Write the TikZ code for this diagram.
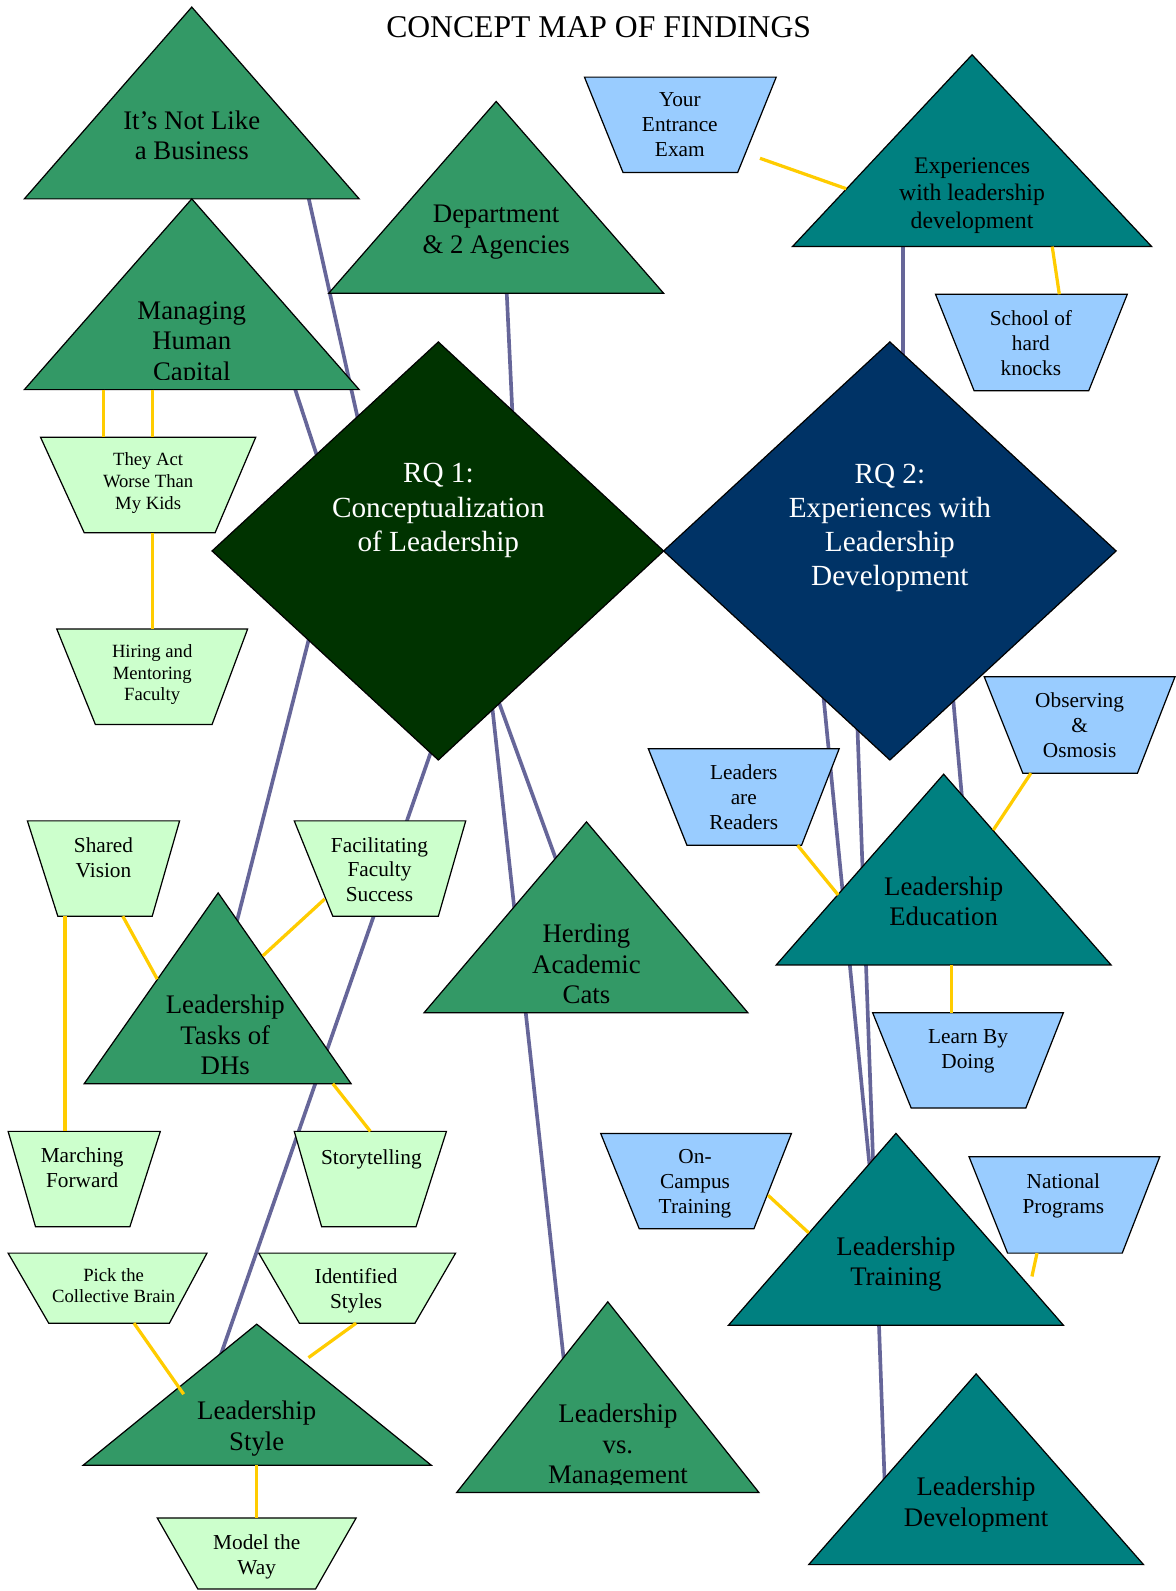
\documentclass[tikz,border=0pt]{standalone}
\usepackage{fontspec}
\setmainfont{Liberation Serif}
\usepackage{tikz}

\definecolor{trigreen}{RGB}{51,153,102}
\definecolor{triteal}{RGB}{0,128,128}
\definecolor{rqgreen}{RGB}{0,51,0}
\definecolor{rqnavy}{RGB}{0,51,102}
\definecolor{boxgreen}{RGB}{204,255,204}
\definecolor{boxblue}{RGB}{153,204,255}
\definecolor{linkpurple}{RGB}{102,102,153}
\definecolor{linkgold}{RGB}{255,204,0}

\tikzset{
  tri/.style={draw=black, line width=0.6pt, fill=trigreen},
  tritl/.style={tri, fill=triteal},
  rqshape/.style={draw=black, line width=0.6pt},
  lgbox/.style={draw=black, line width=0.6pt, fill=boxgreen},
  lbbox/.style={draw=black, line width=0.6pt, fill=boxblue},
  link/.style={draw=linkpurple, line width=1.8pt},
  tie/.style={draw=linkgold, line width=1.6pt},
  trilbl/.style={align=center, inner sep=0pt, text depth=0pt, font=\fontsize{13.2}{15}\selectfont},
  rqlbl/.style={align=center, inner sep=0pt, text depth=0pt, text=white, font=\fontsize{14.4}{16.8}\selectfont},
  boxlbl/.style={align=center, inner sep=0pt, text depth=0pt, font=\fontsize{10.5}{12.3}\selectfont},
  smlbl/.style={align=center, inner sep=0pt, text depth=0pt, font=\fontsize{9.2}{10.7}\selectfont},
}

\begin{document}
\begin{tikzpicture}[x=0.5pt,y=0.5pt,yscale=-1,xscale=1]
        \path [fill=white, use as bounding box] (0,0) rectangle (1159,1568);

        % Connector ends
        \coordinate (biz-rq1) at (303,190);   \coordinate (rq1-biz) at (361,450);
        \coordinate (hcap-rq1) at (289,378);  \coordinate (rq1-hcap) at (329,500);
        \coordinate (dept-rq1) at (499,280);  \coordinate (rq1-dept) at (507,450);
        \coordinate (rq1-tasks) at (312,600); \coordinate (tasks-rq1) at (210,1000);
        \coordinate (rq1-style) at (439,700); \coordinate (style-rq1) at (195,1400);
        \coordinate (rq1-herd) at (480,660);  \coordinate (herd-rq1) at (560,880);
        \coordinate (rq1-lvsm) at (480,650);  \coordinate (lvsm-rq1) at (560,1380);
        \coordinate (exper-rq2) at (890,230); \coordinate (rq2-exper) at (890,450);
        \coordinate (rq2-train) at (807,640); \coordinate (train-rq2) at (862,1200);
        \coordinate (rq2-ldev) at (843,660);  \coordinate (ldev-rq2) at (874,1520);
        \coordinate (rq2-ledu) at (935,640);  \coordinate (ledu-rq2) at (952,830);

        %Straight Lines
        \draw [link] (biz-rq1) -- (rq1-biz) ;
        \draw [link] (hcap-rq1) -- (rq1-hcap) ;
        \draw [link] (dept-rq1) -- (rq1-dept) ;
        \draw [link] (rq1-tasks) -- (tasks-rq1) ;
        \draw [link] (rq1-style) -- (style-rq1) ;
        \draw [link] (rq1-herd) -- (herd-rq1) ;
        \draw [link] (rq1-lvsm) -- (lvsm-rq1) ;
        \draw [link] (exper-rq2) -- (rq2-exper) ;
        \draw [link] (rq2-train) -- (train-rq2) ;
        \draw [link] (rq2-ldev) -- (ldev-rq2) ;
        \draw [link] (rq2-ledu) -- (ledu-rq2) ;

        %Shape: Triangle
        \draw [tri] (189,7) -- (354,196) -- (24,196) -- cycle ;
        \draw [tri] (489,100) -- (654,289) -- (324,289) -- cycle ;
        \draw [tri] (189,196) -- (354,384) -- (24,384) -- cycle ;
        \draw [tritl] (958,54) -- (1135,243) -- (781,243) -- cycle ;
        \draw [tri] (215,880) -- (346,1068) -- (83,1068) -- cycle ;
        \draw [tri] (578,810) -- (737,998) -- (418,998) -- cycle ;
        \draw [tritl] (930,763) -- (1095,951) -- (765,951) -- cycle ;
        \draw [tri] (253,1305) -- (425,1444) -- (82,1444) -- cycle ;
        \draw [tri] (599,1283) -- (748,1471) -- (450,1471) -- cycle ;
        \draw [tritl] (883,1117) -- (1048,1306) -- (718,1306) -- cycle ;
        \draw [tritl] (962,1354) -- (1127,1542) -- (797,1542) -- cycle ;

        %Shape: Diamond
        \draw [rqshape, fill=rqgreen] (432,337) -- (654,543) -- (432,749) -- (209,543) -- cycle ;
        \draw [rqshape, fill=rqnavy] (877,337) -- (1100,543) -- (877,749) -- (654,543) -- cycle ;

        %Shape: Trapezoid
        \draw [lgbox] (40,431) -- (252,431) -- (212,525) -- (83,525) -- cycle ;
        \draw [lgbox] (56,620) -- (244,620) -- (209,714) -- (94,714) -- cycle ;
        \draw [lgbox] (27,809) -- (177,809) -- (150,903) -- (57,903) -- cycle ;
        \draw [lgbox] (290,809) -- (459,809) -- (432,903) -- (328,903) -- cycle ;
        \draw [lgbox] (8,1115) -- (158,1115) -- (128,1209) -- (35,1209) -- cycle ;
        \draw [lgbox] (290,1115) -- (440,1115) -- (410,1209) -- (317,1209) -- cycle ;
        \draw [lgbox] (8,1235) -- (204,1235) -- (167,1304) -- (48,1304) -- cycle ;
        \draw [lgbox] (255,1235) -- (449,1235) -- (409,1304) -- (295,1304) -- cycle ;
        \draw [lgbox] (155,1496) -- (351,1496) -- (311,1566) -- (195,1566) -- cycle ;
        \draw [lbbox] (576,76) -- (765,76) -- (727,170) -- (614,170) -- cycle ;
        \draw [lbbox] (922,290) -- (1111,290) -- (1073,385) -- (960,385) -- cycle ;
        \draw [lbbox] (970,667) -- (1158,667) -- (1121,762) -- (1008,762) -- cycle ;
        \draw [lbbox] (639,738) -- (827,738) -- (790,833) -- (677,833) -- cycle ;
        \draw [lbbox] (860,998) -- (1048,998) -- (1011,1092) -- (898,1092) -- cycle ;
        \draw [lbbox] (592,1117) -- (780,1117) -- (743,1211) -- (630,1211) -- cycle ;
        \draw [lbbox] (955,1140) -- (1143,1140) -- (1106,1235) -- (993,1235) -- cycle ;

        % Text Node
        \draw (590,27) node [inner sep=0pt, font=\fontsize{15.6}{18}\selectfont] (title) {CONCEPT MAP OF FINDINGS};
        % Text Node
        \draw (189,133) node [trilbl] (biz) {It’s Not Like\\a Business};
        \draw (489,226) node [trilbl] (dept) {Department\\\& 2 Agencies};
        \begin{scope}
          \clip (0,0) rectangle (1159,374);
          \draw (189,336) node [trilbl] (hcap) {Managing\\Human\\Capital};
        \end{scope}
        \draw (958,190) node [trilbl, font=\fontsize{11.7}{13.5}\selectfont] (exper) {Experiences\\with leadership\\development};
        \draw (222,1020) node [trilbl] (tasks) {Leadership\\Tasks of\\DHs};
        \draw (578,950) node [trilbl] (herd) {Herding\\Academic\\Cats};
        \draw (930,888) node [trilbl] (ledu) {Leadership\\Education};
        \draw (253,1405) node [trilbl] (lstyle) {Leadership\\Style};
        \begin{scope}
          \clip (0,0) rectangle (1159,1463);
          \draw (609,1423) node [trilbl] (lvsm) {Leadership\\vs.\\Management};
        \end{scope}
        \draw (883,1243) node [trilbl] (ltrain) {Leadership\\Training};
        \draw (962,1480) node [trilbl] (ldev) {Leadership\\Development};
        % Text Node
        \draw (432,500) node [rqlbl] (rq1) {RQ 1:\\Conceptualization\\of Leadership};
        \draw (877,517) node [rqlbl] (rq2) {RQ 2:\\Experiences with\\Leadership\\Development};
        % Text Node
        \draw (146,474) node [smlbl] (actkids) {They Act\\Worse Than\\My Kids};
        \draw (150,663) node [smlbl] (hiring) {Hiring and\\Mentoring\\Faculty};
        \draw (102,845) node [boxlbl] (vision) {Shared\\Vision};
        \draw (374,857) node [boxlbl] (facil) {Facilitating\\Faculty\\Success};
        \draw (81,1151) node [boxlbl] (march) {Marching\\Forward};
        \draw (366,1140) node [boxlbl] (story) {Storytelling};
        \draw (112,1267) node [smlbl] (brain) {Pick the\\Collective Brain};
        \draw (351,1270) node [boxlbl] (styles) {Identified\\Styles};
        \draw (253,1532) node [boxlbl] (model) {Model the\\Way};
        \draw (670,123) node [boxlbl] (exam) {Your\\Entrance\\Exam};
        \draw (1016,338) node [boxlbl] (knocks) {School of\\hard\\knocks};
        \draw (1064,715) node [boxlbl] (osmosis) {Observing\\\&\\Osmosis};
        \draw (733,786) node [boxlbl] (readers) {Leaders\\are\\Readers};
        \draw (954,1034) node [boxlbl] (doing) {Learn By\\Doing};
        \draw (685,1164) node [boxlbl] (campus) {On-\\Campus\\Training};
        \draw (1048,1176) node [boxlbl] (national) {National\\Programs};

        % Tie ends
        \coordinate (exam-exper) at (749,156);    \coordinate (exper-exam) at (834,186);
        \coordinate (exper-knocks) at (1037,243); \coordinate (knocks-exper) at (1044,290);
        \coordinate (hcap-kids1) at (102,384);    \coordinate (kids-hcap1) at (102,431);
        \coordinate (hcap-kids2) at (150,384);    \coordinate (kids-hcap2) at (150,431);
        \coordinate (kids-hiring) at (150,525);   \coordinate (hiring-kids) at (150,620);
        \coordinate (vision-tasks) at (121,903);  \coordinate (tasks-vision) at (155,965);
        \coordinate (vision-march) at (64,903);   \coordinate (march-vision) at (64,1115);
        \coordinate (facil-tasks) at (320,886);   \coordinate (tasks-facil) at (259,942);
        \coordinate (tasks-story) at (328,1068);  \coordinate (story-tasks) at (365,1115);
        \coordinate (brain-style) at (132,1304);  \coordinate (style-brain) at (181,1374);
        \coordinate (styles-style) at (351,1304); \coordinate (style-styles) at (304,1338);
        \coordinate (style-model) at (253,1444);  \coordinate (model-style) at (253,1496);
        \coordinate (readers-ledu) at (786,833);  \coordinate (ledu-readers) at (826,882);
        \coordinate (osmosis-ledu) at (1016,762); \coordinate (ledu-osmosis) at (979,818);
        \coordinate (ledu-doing) at (938,951);    \coordinate (doing-ledu) at (938,998);
        \coordinate (campus-train) at (757,1178); \coordinate (train-campus) at (797,1215);
        \coordinate (natl-train) at (1022,1235);  \coordinate (train-natl) at (1017,1258);

        %Straight Lines
        \draw [tie] (exam-exper) -- (exper-exam) ;
        \draw [tie] (exper-knocks) -- (knocks-exper) ;
        \draw [tie] (hcap-kids1) -- (kids-hcap1) ;
        \draw [tie] (hcap-kids2) -- (kids-hcap2) ;
        \draw [tie] (kids-hiring) -- (hiring-kids) ;
        \draw [tie] (vision-tasks) -- (tasks-vision) ;
        \draw [tie] (vision-march) -- (march-vision) ;
        \draw [tie] (facil-tasks) -- (tasks-facil) ;
        \draw [tie] (tasks-story) -- (story-tasks) ;
        \draw [tie] (brain-style) -- (style-brain) ;
        \draw [tie] (styles-style) -- (style-styles) ;
        \draw [tie] (style-model) -- (model-style) ;
        \draw [tie] (readers-ledu) -- (ledu-readers) ;
        \draw [tie] (osmosis-ledu) -- (ledu-osmosis) ;
        \draw [tie] (ledu-doing) -- (doing-ledu) ;
        \draw [tie] (campus-train) -- (train-campus) ;
        \draw [tie] (natl-train) -- (train-natl) ;

\end{tikzpicture}
\end{document}
